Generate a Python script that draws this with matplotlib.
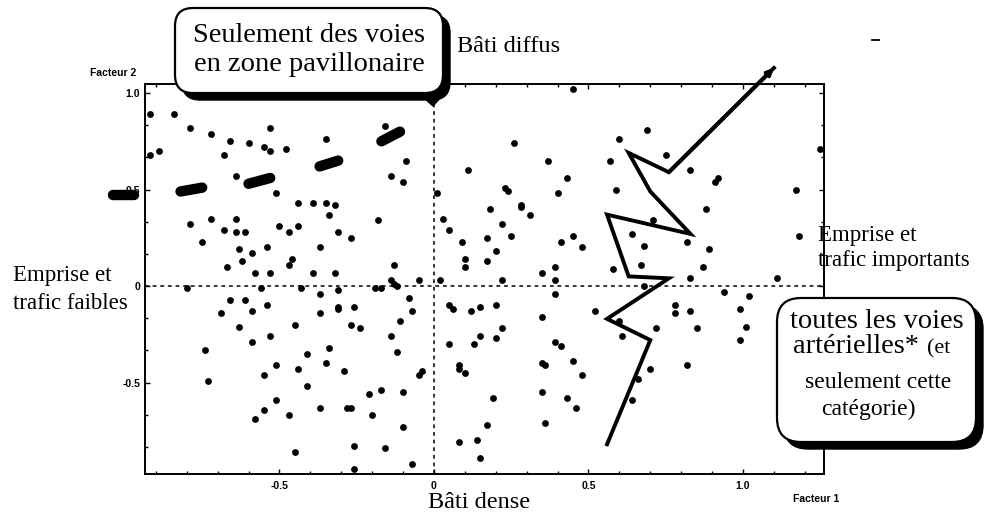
import matplotlib
matplotlib.use('Agg')
import matplotlib.pyplot as plt
from matplotlib.patches import FancyBboxPatch, Polygon
from matplotlib.ticker import MultipleLocator, AutoMinorLocator

# points of the factorial plane (Facteur 1, Facteur 2)
fac1 = [-0.92, -0.84, -0.79, -0.72, -0.53, -0.66, -0.60, -0.55, -0.53, -0.48, -0.92, -0.89, -0.68, -0.64,
        -0.51, -0.44, -0.39, -0.79, -0.72, -0.64, -0.68, -0.64, -0.61, -0.50, -0.47, -0.44, -0.75, -0.63,
        -0.59, -0.54, -0.62, -0.67, -0.46, -0.47, -0.58, -0.53, -0.39,
        -0.16, -0.35, -0.09, 0.11, -0.14, -0.10, 0.01, -0.35, -0.32, -0.34, -0.18, 0.03, 0.05, -0.31,
        -0.27, 0.09, -0.37, 0.10, 0.10, -0.13, -0.32,
        0.45, 0.26, 0.60, 0.37, 0.57, 0.43, 0.23, 0.24, 0.40, 0.59, 0.18, 0.28, 0.28, 0.31, 0.22, 0.25,
        0.17, 0.20, 0.17, 0.45, 0.41, 0.48, 0.64, 0.68, 0.35, 0.39, 0.58, 0.67, 0.22, 0.39,
        0.69, 0.75, 0.83, 0.92, 0.91, 1.25, 1.17, 0.88, 0.71, 0.82, 0.89, 0.87, 0.83, 1.11, 1.18,
        -0.80, -0.56, -0.43, -0.66, -0.61, -0.54, -0.69, -0.59, -0.63, -0.45, -0.53, -0.59, -0.74, -0.41,
        -0.51, -0.44, -0.55, -0.73, -0.41, -0.51, -0.55, -0.58, -0.47, -0.45,
        -0.14, -0.13, -0.05, 0.02, -0.37, -0.31, -0.19, -0.17, -0.12, -0.08, -0.37, -0.31, -0.31, -0.26,
        -0.07, 0.05, 0.06, -0.27, -0.24, -0.11, -0.14, -0.34, -0.12, 0.05, -0.35, -0.29, 0.08, 0.08,
        0.10, -0.05, -0.04, -0.21, -0.17, -0.10, -0.37, -0.28, -0.27, -0.20, -0.10, 0.08, -0.26, -0.16,
        -0.26, -0.07,
        0.39, 0.15, 0.20, 0.12, 0.35, 0.52, 0.60, 0.61, 0.15, 0.13, 0.20, 0.22, 0.39, 0.41, 0.35, 0.36,
        0.45, 0.48, 0.66, 0.35, 0.43, 0.46, 0.19, 0.64, 0.17, 0.14, 0.15, 0.36,
        0.68, 0.94, 1.02, 0.78, 0.78, 0.83, 0.99, 0.72, 0.85, 1.01, 0.99, 0.70, 0.82]
fac2 = [0.89, 0.89, 0.82, 0.79, 0.82, 0.75, 0.74, 0.72, 0.70, 0.71, 0.68, 0.70, 0.68, 0.57,
        0.48, 0.43, 0.43, 0.32, 0.35, 0.35, 0.29, 0.28, 0.28, 0.31, 0.28, 0.31, 0.23, 0.19,
        0.17, 0.20, 0.13, 0.10, 0.14, 0.11, 0.07, 0.07, 0.07,
        0.83, 0.76, 0.65, 0.60, 0.57, 0.54, 0.48, 0.43, 0.42, 0.37, 0.34, 0.35, 0.29, 0.28,
        0.25, 0.23, 0.20, 0.14, 0.10, 0.11, 0.07,
        1.02, 0.74, 0.76, 0.65, 0.65, 0.56, 0.51, 0.49, 0.48, 0.50, 0.40, 0.42, 0.41, 0.37, 0.32, 0.26,
        0.25, 0.18, 0.13, 0.26, 0.23, 0.20, 0.27, 0.21, 0.07, 0.10, 0.09, 0.11, 0.03, 0.03,
        0.81, 0.68, 0.60, 0.56, 0.54, 0.71, 0.50, 0.40, 0.34, 0.23, 0.19, 0.10, 0.04, 0.04, 0.26,
        -0.01, -0.01, -0.01, -0.07, -0.07, -0.10, -0.14, -0.13, -0.21, -0.20, -0.26, -0.29, -0.33, -0.35,
        -0.41, -0.43, -0.46, -0.49, -0.52, -0.59, -0.64, -0.69, -0.67, -0.86,
        0.03, 0.01, 0.03, 0.03, -0.04, -0.02, -0.01, -0.01, 0.00, -0.06, -0.14, -0.11, -0.12, -0.11,
        -0.13, -0.10, -0.12, -0.20, -0.22, -0.18, -0.26, -0.32, -0.34, -0.30, -0.40, -0.44, -0.41, -0.43,
        -0.45, -0.46, -0.44, -0.56, -0.54, -0.55, -0.63, -0.63, -0.63, -0.67, -0.73, -0.81, -0.83, -0.84,
        -0.95, -0.92,
        -0.04, -0.11, -0.10, -0.13, -0.16, -0.13, -0.18, -0.26, -0.26, -0.30, -0.27, -0.22, -0.29, -0.31,
        -0.40, -0.41, -0.39, -0.46, -0.48, -0.55, -0.58, -0.63, -0.58, -0.59, -0.72, -0.80, -0.89, -0.71,
        0.00, -0.03, -0.05, -0.10, -0.14, -0.13, -0.12, -0.22, -0.22, -0.21, -0.28, -0.43, -0.41]

# thick dashed trail ("zone pavillonaire"), one entry per dash
dash_x0 = [-1.04, -0.82, -0.60, -0.37, -0.17]
dash_x1 = [-0.97, -0.75, -0.53, -0.31, -0.11]
dash_y0 = [0.47, 0.49, 0.53, 0.62, 0.75]
dash_y1 = [0.47, 0.51, 0.56, 0.65, 0.80]

# zigzag line ("voies artérielles")
art_x = [1.10, 0.76, 0.63, 0.70, 0.83, 0.56, 0.63, 0.76, 0.56, 0.70, 0.56]
art_y = [1.13, 0.59, 0.69, 0.49, 0.27, 0.37, 0.05, 0.04, -0.17, -0.28, -0.82]

x_ticks = [-0.5, 0, 0.5, 1.0]
x_tick_labels = ['-0.5', '0', '0.5', '1.0']
y_ticks = [-0.5, 0, 0.5, 1.0]
y_tick_labels = ['-0.5', '0', '0.5', '1.0']

serif = 'Liberation Serif'
sans = 'Liberation Sans'

fig = plt.figure(figsize=(9.86, 5.15), dpi=100)
ax = fig.add_axes([145 / 986, 41 / 515, 679 / 986, 390 / 515])

ax.axhline(0, color='k', lw=1.1, ls=(0, (2.5, 2.5)), zorder=1)
ax.axvline(0, color='k', lw=1.1, ls=(0, (2.5, 2.5)), zorder=1)
ax.scatter(fac1, fac2, s=24, c='k', linewidths=0, zorder=3)

for x0, x1, y0, y1 in zip(dash_x0, dash_x1, dash_y0, dash_y1):
    ax.plot([x0, x1], [y0, y1], color='k', lw=7.5, solid_capstyle='round', clip_on=False, zorder=4)

ax.plot(art_x, art_y, color='k', lw=2.8, solid_joinstyle='miter', clip_on=False, zorder=4)
ax.annotate('', xy=(art_x[0], art_y[0]), xytext=(art_x[1], art_y[1]),
            arrowprops=dict(arrowstyle='-|>', color='k', lw=2.8, mutation_scale=9, shrinkA=0, shrinkB=0),
            annotation_clip=False, zorder=4)

ax.set_xlim(-0.935, 1.262)
ax.set_ylim(-0.974, 1.047)
ax.set_xticks(x_ticks)
ax.set_xticklabels(x_tick_labels)
ax.set_yticks(y_ticks)
ax.set_yticklabels(y_tick_labels)
ax.xaxis.set_minor_locator(MultipleLocator(0.1))
ax.yaxis.set_minor_locator(AutoMinorLocator(3))
ax.tick_params(which='both', direction='in', top=True, right=True, width=1.0)
ax.tick_params(which='major', length=3.5)
ax.tick_params(which='minor', length=2)
ax.tick_params(axis='x', pad=5)
ax.tick_params(axis='y', pad=3.5)
for lab in ax.get_xticklabels() + ax.get_yticklabels():
    lab.set_fontfamily(sans)
    lab.set_fontsize(7.5)
    lab.set_fontweight('bold')
for sp in ax.spines.values():
    sp.set_linewidth(1.4)

# overlay in pixel units for labels and call-out boxes
ov = fig.add_axes([0, 0, 1, 1], zorder=10)
ov.set_xlim(0, 986)
ov.set_ylim(515, 0)
ov.axis('off')


def callout(x, y, w, h, r, off):
    shadow = FancyBboxPatch((x + off, y + off), w, h, boxstyle='round,pad=0,rounding_size=%d' % r,
                            fc='k', ec='k', lw=1)
    box = FancyBboxPatch((x, y), w, h, boxstyle='round,pad=0,rounding_size=%d' % r,
                         fc='white', ec='k', lw=1.6)
    ov.add_patch(shadow)
    ov.add_patch(box)


callout(175, 8, 268, 85, 18, 7)
ov.add_patch(Polygon([[422, 96], [442, 96], [433, 106]], closed=True, fc='k', ec='k'))
ov.text(309, 42, 'Seulement des voies', family=serif, fontsize=20.5, ha='center', va='baseline')
ov.text(309, 71, 'en zone pavillonaire', family=serif, fontsize=20.5, ha='center', va='baseline')

callout(777, 298, 199, 144, 24, 7)
ov.text(877, 328, 'toutes les voies', family=serif, fontsize=20.5, ha='center', va='baseline')
ov.text(793, 353, 'artérielles*', family=serif, fontsize=20.5, ha='left', va='baseline')
ov.text(927, 353, '(et', family=serif, fontsize=16, ha='left', va='baseline')
ov.text(878, 388, 'seulement cette', family=serif, fontsize=17, ha='center', va='baseline')
ov.text(868, 415, 'catégorie)', family=serif, fontsize=17, ha='center', va='baseline')

ov.text(457, 52, 'Bâti diffus', family=serif, fontsize=17.5, ha='left', va='baseline')
ov.text(428, 508, 'Bâti dense', family=serif, fontsize=17.5, ha='left', va='baseline')
ov.text(13, 281, 'Emprise et', family=serif, fontsize=16.5, ha='left', va='baseline')
ov.text(13, 309, 'trafic faibles', family=serif, fontsize=16.5, ha='left', va='baseline')
ov.text(818, 241, 'Emprise et', family=serif, fontsize=16.5, ha='left', va='baseline')
ov.text(818, 266, 'trafic importants', family=serif, fontsize=16.5, ha='left', va='baseline')

ov.text(90, 76, 'Facteur 2', family=sans, fontsize=7.5, fontweight='bold', ha='left', va='baseline')
ov.text(793, 502, 'Facteur 1', family=sans, fontsize=7.5, fontweight='bold', ha='left', va='baseline')
ov.plot([872, 879], [40, 40], color='k', lw=1.3)

fig.savefig('out.png', dpi=100)
